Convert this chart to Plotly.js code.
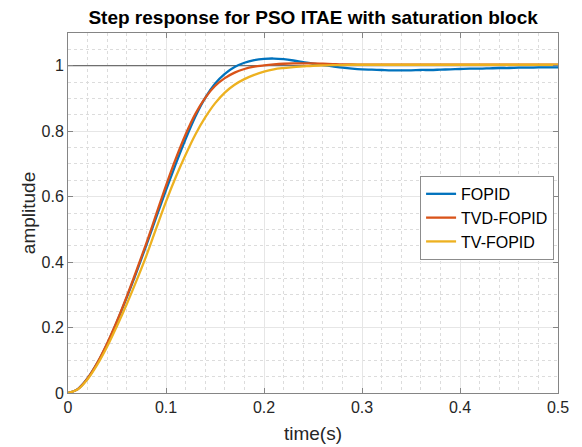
<!DOCTYPE html>
<html>
<head>
<meta charset="utf-8">
<script src="https://cdn.plot.ly/plotly-3.0.1.min.js"></script>
<style>html,body{margin:0;padding:0;background:#fff;}#chart{width:582px;height:447px;}</style>
</head>
<body>
<div id="chart"></div>
<script>
// time (s)
const time = [0.00,0.01,0.02,0.03,0.04,0.05,0.06,0.07,0.08,0.09,
              0.10,0.11,0.12,0.13,0.14,0.15,0.16,0.17,0.18,0.19,
              0.20,0.21,0.22,0.23,0.24,0.25,0.26,0.27,0.28,0.29,
              0.30,0.31,0.32,0.33,0.34,0.35,0.36,0.37,0.38,0.39,
              0.40,0.41,0.42,0.43,0.44,0.45,0.46,0.47,0.48,0.49,0.50];

const fopid = [0,0.012,0.045,0.092,0.150,0.218,0.292,0.370,0.452,0.537,
               0.620,0.700,0.776,0.845,0.902,0.945,0.975,0.996,1.009,1.017,
               1.021,1.022,1.020,1.016,1.011,1.006,1.002,0.998,0.994,0.991,
               0.989,0.988,0.987,0.986,0.986,0.986,0.987,0.987,0.988,0.989,
               0.990,0.991,0.991,0.992,0.993,0.993,0.994,0.994,0.995,0.995,0.995];

const tvdFopid = [0,0.012,0.045,0.093,0.152,0.220,0.295,0.375,0.458,0.546,
                  0.634,0.716,0.790,0.853,0.902,0.938,0.962,0.979,0.990,0.997,
                  1.001,1.004,1.006,1.007,1.007,1.007,1.006,1.005,1.004,1.004,
                  1.003,1.003,1.003,1.003,1.003,1.003,1.003,1.003,1.003,1.003,
                  1.003,1.003,1.003,1.003,1.003,1.003,1.003,1.003,1.003,1.003,1.003];

const tvFopid = [0,0.011,0.042,0.087,0.142,0.205,0.272,0.344,0.420,0.503,
                 0.585,0.660,0.728,0.790,0.842,0.885,0.918,0.942,0.959,0.972,
                 0.982,0.989,0.993,0.996,0.998,1.000,1.001,1.002,1.002,1.003,
                 1.003,1.003,1.003,1.003,1.003,1.003,1.003,1.003,1.003,1.003,
                 1.003,1.003,1.003,1.003,1.003,1.003,1.003,1.003,1.003,1.003,1.003];

const finalValue = 1;
const seriesNames = ['FOPID','TVD-FOPID','TV-FOPID'];
const xTicks = [0,0.1,0.2,0.3,0.4,0.5];
const yTicks = [0,0.2,0.4,0.6,0.8,1];

const colors = ['#0072BD','#D95319','#EDB120'];
const font = 'Arial, "Liberation Sans", Helvetica, sans-serif';

const traces = [
  {x:[time[0], time[time.length-1]], y:[finalValue, finalValue], mode:'lines',
   line:{color:'#4d4d4d', width:1}, showlegend:false, hoverinfo:'skip'}
];
[fopid, tvdFopid, tvFopid].forEach((s,i)=>{
  traces.push({x:time, y:s, mode:'lines', name:seriesNames[i],
    line:{color:colors[i], width:2.3, shape:'spline', smoothing:1}});
});

const axisCommon = {
  showline:true, mirror:'ticks', linecolor:'#858585', linewidth:1,
  ticks:'inside', ticklen:5, tickcolor:'#858585',
  showgrid:true, gridcolor:'#e6e6e6', gridwidth:1,
  zeroline:false,
  tickfont:{family:font, size:16, color:'#262626'}
};

const layout = {
  width:582, height:447,
  margin:{l:68, r:24, t:33, b:54},
  paper_bgcolor:'#ffffff', plot_bgcolor:'#ffffff',
  title:{text:'<b>Step response for PSO ITAE with saturation block</b>',
         font:{family:font, size:19, color:'#000000'},
         x:0.538, xanchor:'center', y:0.962, yanchor:'middle'},
  xaxis:Object.assign({}, axisCommon, {
    range:[0,0.5], tickvals:xTicks, ticktext:xTicks.map(String),
    minor:{dtick:0.02, showgrid:true, gridcolor:'#dcdcdc', griddash:'dot', gridwidth:1, ticks:''},
    title:{text:'time(s)', font:{family:font, size:19, color:'#262626'}, standoff:11}
  }),
  yaxis:Object.assign({}, axisCommon, {
    range:[0,1.1], tickvals:yTicks, ticktext:yTicks.map(String),
    minor:{dtick:0.05, showgrid:true, gridcolor:'#dcdcdc', griddash:'dot', gridwidth:1, ticks:''},
    title:{text:'amplitude', font:{family:font, size:19, color:'#262626'}, standoff:0}
  }),
  legend:{x:0.992, xanchor:'right', y:0.603, yanchor:'top',
    bgcolor:'#ffffff', bordercolor:'#8c8c8c', borderwidth:1,
    font:{family:font, size:16, color:'#000000'}, tracegroupgap:0},
  showlegend:true
};

Plotly.newPlot('chart', traces, layout, {displayModeBar:false, staticPlot:true});
</script>
</body>
</html>
